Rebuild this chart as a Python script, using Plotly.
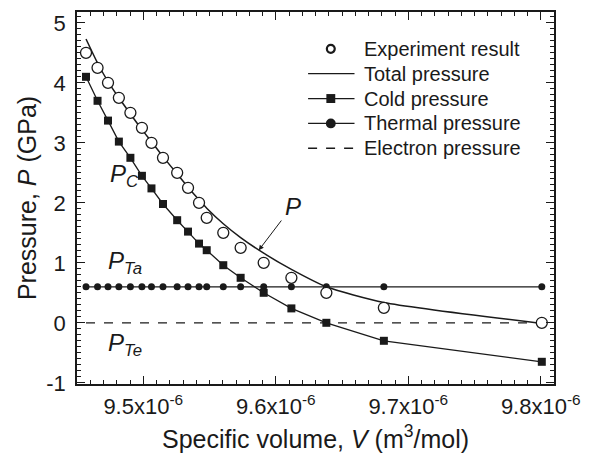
import plotly.graph_objects as go

# Specific volume in units of 1e-6 m^3/mol
volume = [9.4568, 9.4655, 9.4734, 9.4816, 9.4903, 9.4990, 9.5062, 9.5149, 9.5256,
          9.5338, 9.5421, 9.5479, 9.5604, 9.5735, 9.5909, 9.6118, 9.6382, 9.6816, 9.8008]
experiment = [4.5, 4.25, 4.0, 3.75, 3.5, 3.25, 3.0, 2.75, 2.5, 2.25, 2.0, 1.75, 1.5,
              1.25, 1.0, 0.75, 0.5, 0.25, 0.0]
total_p = [4.73, 4.33, 4.02, 3.75, 3.48, 3.22, 3.02, 2.77, 2.48, 2.26, 2.05, 1.91,
           1.65, 1.42, 1.16, 0.89, 0.60, 0.34, -0.01]
cold_p = [4.10, 3.70, 3.37, 3.02, 2.75, 2.45, 2.24, 1.98, 1.71, 1.52, 1.32, 1.21,
          0.96, 0.75, 0.50, 0.24, 0.0, -0.30, -0.65]
thermal_p = [0.6] * 19
electron_p = [0.0] * 19

legend_labels = ["Experiment result", "Total pressure", "Cold pressure",
                 "Thermal pressure", "Electron pressure"]
x_tickvals = [9.5, 9.6, 9.7, 9.8]
x_ticktext = ["9.5x10<sup>-6</sup>", "9.6x10<sup>-6</sup>", "9.7x10<sup>-6</sup>", "9.8x10<sup>-6</sup>"]
y_tickvals = [-1, 0, 1, 2, 3, 4, 5]
y_ticktext = ["-1", "0", "1", "2", "3", "4", "5"]

FONT = "Liberation Sans, Arial, sans-serif"
INK = "#1a1a1a"

fig = go.Figure()

fig.add_trace(go.Scatter(x=volume, y=thermal_p, mode="lines+markers", name=legend_labels[3],
                         line=dict(color=INK, width=1.3),
                         marker=dict(symbol="circle", size=7, color=INK)))
fig.add_trace(go.Scatter(x=volume, y=electron_p, mode="lines", name=legend_labels[4],
                         line=dict(color=INK, width=1.3, dash="dash")))
fig.add_trace(go.Scatter(x=volume, y=cold_p, mode="lines+markers", name=legend_labels[2],
                         line=dict(color=INK, width=1.3),
                         marker=dict(symbol="square", size=8, color=INK)))
fig.add_trace(go.Scatter(x=volume, y=total_p, mode="lines", name=legend_labels[1],
                         line=dict(color=INK, width=1.5, shape="spline", smoothing=0.6)))
fig.add_trace(go.Scatter(x=volume, y=experiment, mode="markers", name=legend_labels[0],
                         marker=dict(symbol="circle", size=11, color="white",
                                     line=dict(color=INK, width=1.3))))

axis_common = dict(showline=True, linecolor=INK, linewidth=1.5, mirror="ticks",
                   ticks="inside", ticklen=8, tickwidth=1.2, tickcolor=INK,
                   showgrid=False, zeroline=False)

fig.update_layout(
    width=590, height=460,
    margin=dict(l=77, r=30, t=10, b=76),
    paper_bgcolor="white", plot_bgcolor="white",
    font=dict(family=FONT, color=INK),
    showlegend=False,
    xaxis=dict(range=[9.45, 9.81], tickvals=x_tickvals, ticktext=x_ticktext,
               tickfont=dict(family=FONT, size=22, color=INK), ticklabelstandoff=2,
               ticklabeloverflow="allow",
               minor=dict(dtick=0.01, ticks="inside", ticklen=4, tickwidth=1, tickcolor=INK),
               title=dict(text="Specific volume, <i>V</i> (m<sup>3</sup>/mol)",
                          font=dict(family=FONT, size=25, color=INK), standoff=12),
               **axis_common),
    yaxis=dict(range=[-1.02, 5.18], tickvals=y_tickvals, ticktext=y_ticktext,
               tickfont=dict(family=FONT, size=22, color=INK), ticklabelstandoff=5,
               minor=dict(dtick=0.1, ticks="inside", ticklen=4, tickwidth=1, tickcolor=INK),
               title=dict(text="Pressure, <i>P</i> (GPa)",
                          font=dict(family=FONT, size=25, color=INK), standoff=3),
               **axis_common),
)

# ---- legend drawn in paper coordinates (plot area 77..560 x 10..384 px) ----
def px_x(p):
    return (p - 77) / 483.0

def px_y(p):
    return (384 - p) / 374.0

row_y = [47, 72, 97, 122, 147]
sym_l, sym_r, sym_c, text_x = 311, 358, 334, 366
leg_font = dict(family=FONT, size=20, color=INK)
for lbl, ry in zip(legend_labels, row_y):
    fig.add_annotation(xref="paper", yref="paper", x=px_x(text_x), y=px_y(ry), text=lbl,
                       showarrow=False, xanchor="left", yanchor="middle", font=leg_font)

# experiment: small thick open circle
r = 4
fig.add_shape(type="circle", xref="paper", yref="paper",
              x0=px_x(sym_c - r), x1=px_x(sym_c + r), y0=px_y(row_y[0] + r), y1=px_y(row_y[0] - r),
              line=dict(color=INK, width=2.2), fillcolor="white")
# total: plain line
fig.add_shape(type="line", xref="paper", yref="paper", x0=px_x(sym_l), x1=px_x(sym_r),
              y0=px_y(row_y[1]), y1=px_y(row_y[1]), line=dict(color=INK, width=1.3))
# cold: line with square
fig.add_shape(type="line", xref="paper", yref="paper", x0=px_x(sym_l), x1=px_x(sym_r),
              y0=px_y(row_y[2]), y1=px_y(row_y[2]), line=dict(color=INK, width=1.3))
s = 4.5
fig.add_shape(type="rect", xref="paper", yref="paper",
              x0=px_x(sym_c - s), x1=px_x(sym_c + s), y0=px_y(row_y[2] + s), y1=px_y(row_y[2] - s),
              line=dict(color=INK, width=0), fillcolor=INK)
# thermal: line with dot
fig.add_shape(type="line", xref="paper", yref="paper", x0=px_x(sym_l), x1=px_x(sym_r),
              y0=px_y(row_y[3]), y1=px_y(row_y[3]), line=dict(color=INK, width=1.3))
d = 5
fig.add_shape(type="circle", xref="paper", yref="paper",
              x0=px_x(sym_c - d), x1=px_x(sym_c + d), y0=px_y(row_y[3] + d), y1=px_y(row_y[3] - d),
              line=dict(color=INK, width=0), fillcolor=INK)
# electron: dashed line
fig.add_shape(type="line", xref="paper", yref="paper", x0=px_x(sym_l), x1=px_x(sym_r),
              y0=px_y(row_y[4]), y1=px_y(row_y[4]), line=dict(color=INK, width=1.3, dash="dash"))

# ---- curve labels ----
ann_font = dict(family=FONT, size=24, color=INK)
fig.add_annotation(x=9.4732, y=2.46, text="<i>P</i><sub><i>C</i></sub>", showarrow=False,
                   xanchor="left", yanchor="middle", font=ann_font)
fig.add_annotation(x=9.4717, y=1.00, text="<i>P</i><sub><i>Ta</i></sub>", showarrow=False,
                   xanchor="left", yanchor="middle", font=ann_font)
fig.add_annotation(x=9.4717, y=-0.36, text="<i>P</i><sub><i>Te</i></sub>", showarrow=False,
                   xanchor="left", yanchor="middle", font=ann_font)
fig.add_annotation(x=9.6133, y=1.94, text="<i>P</i>", showarrow=False,
                   xanchor="center", yanchor="middle", font=ann_font)
fig.add_annotation(x=9.5872, y=1.21, ax=9.6051, ay=1.73, axref="x", ayref="y",
                   text="", showarrow=True, arrowhead=2, arrowsize=1, arrowwidth=1,
                   arrowcolor=INK)

fig.write_html("out.html")
